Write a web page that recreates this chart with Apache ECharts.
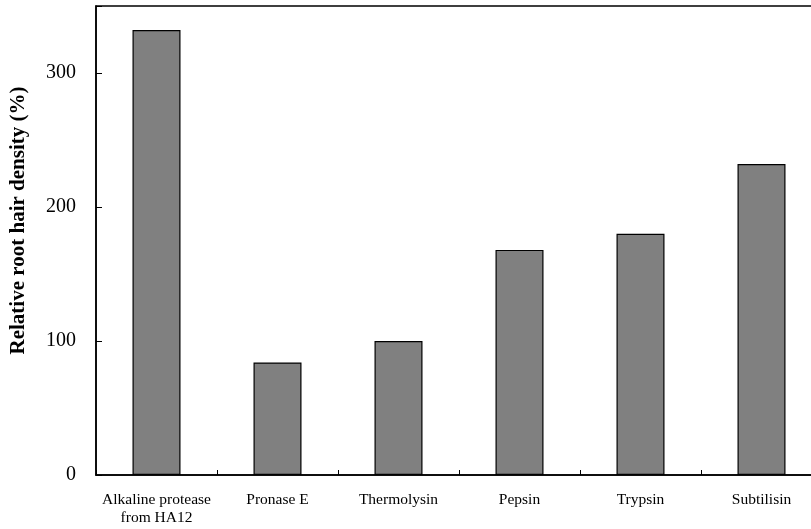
<!DOCTYPE html>
<html>
<head>
<meta charset="utf-8">
<script src="https://cdn.jsdelivr.net/npm/echarts@6/dist/echarts.min.js"></script>
<style>html,body{margin:0;padding:0;background:#fff;}#c{width:811px;height:529px;}</style>
</head>
<body>
<div id="c"></div>
<script>
const categories = ['Alkaline protease\nfrom HA12', 'Pronase E', 'Thermolysin', 'Pepsin', 'Trypsin', 'Subtilisin'];
const densityValues = [332, 84, 100, 168, 180, 232];
const yTicks = [0, 100, 200, 300];

const chart = echarts.init(document.getElementById('c'));
chart.setOption({
  animation: false,
  backgroundColor: '#fff',
  grid: { left: 96, top: 6, width: 726, height: 469, containLabel: false, outerBoundsMode: 'none',
    show: true, borderColor: '#000', borderWidth: 1.5, backgroundColor: 'transparent' },
  xAxis: {
    type: 'category',
    data: categories,
    axisLine: { lineStyle: { color: '#000', width: 1.5 } },
    axisTick: { show: true, inside: true, length: 5, alignWithLabel: false, lineStyle: { color: '#000', width: 1 } },
    axisLabel: { color: '#000', fontFamily: 'Liberation Serif', fontSize: 15.5, margin: 16, lineHeight: 18, interval: 0 }
  },
  yAxis: {
    type: 'value',
    min: 0, max: 350, interval: 100,
    name: 'Relative root hair density (%)',
    nameLocation: 'middle',
    nameGap: 67,
    nameTextStyle: { color: '#000', fontFamily: 'Liberation Serif', fontWeight: 'bold', fontSize: 21, padding: [0, 0, 0, 40] },
    axisLine: { show: true, lineStyle: { color: '#000', width: 1.5 } },
    axisTick: { show: true, inside: true, length: 6, lineStyle: { color: '#000', width: 1 } },
    axisLabel: { color: '#000', fontFamily: 'Liberation Serif', fontSize: 20, margin: 20,
      formatter: v => yTicks.includes(v) ? String(v) : '' },
    splitLine: { show: false }
  },
  series: [{
    type: 'bar',
    data: densityValues,
    barWidth: 48,
    itemStyle: { color: '#808080', borderColor: '#000', borderWidth: 1.2 }
  }]
});
</script>
</body>
</html>
